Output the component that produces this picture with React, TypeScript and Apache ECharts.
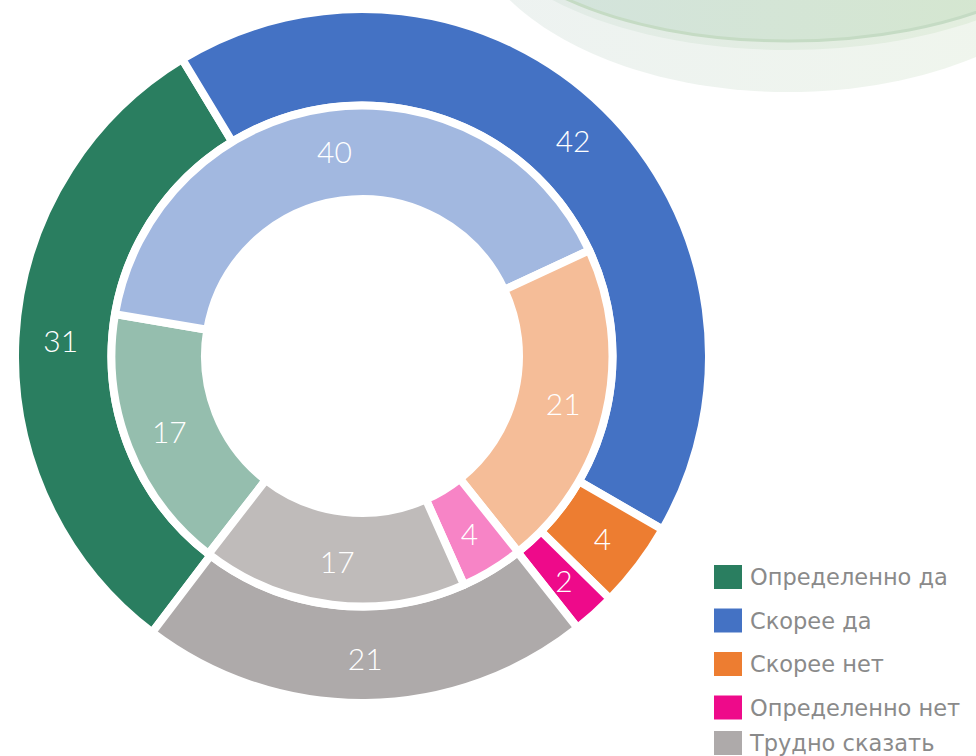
import React, { useEffect, useRef } from "react";
import * as echarts from "echarts";

const categories = ["Определенно да", "Скорее да", "Скорее нет", "Определенно нет", "Трудно сказать"];
const outerValues = [31, 42, 4, 2, 21];
const innerValues = [17, 40, 21, 4, 17];
const outerColors = ["#2A7E60", "#4472C4", "#ED7D31", "#EE0A8A", "#AEAAAA"];
const innerColors = ["#95BEAE", "#A2B8E0", "#F5BD98", "#F784C6", "#BFBBBA"];

const FONT = "Lato, 'Noto Sans', sans-serif";
const LEGEND_FONT = "'DejaVu Sans', sans-serif";

export default function App() {
  const ref = useRef<HTMLDivElement>(null);
  useEffect(() => {
    if (!ref.current) return;
    const chart = echarts.init(ref.current, undefined, { renderer: "svg" });
    const label = {
      show: true,
      position: "inside",
      color: "#ffffff",
      fontSize: 30,
      fontFamily: FONT,
      fontWeight: 300,
      formatter: "{c}",
    };
    const mk = (vals: number[], cols: string[]) =>
      vals.map((v, i) => ({ name: categories[i], value: v, itemStyle: { color: cols[i] } }));
    const legendBase = {
      orient: "vertical",
      left: 712,
      padding: 0,
      itemWidth: 30,
      itemHeight: 26,
      itemGap: 15.5,
      icon: "rect",
      textStyle: {
        fontSize: 22.5,
        color: "#8a8a8a",
        fontFamily: LEGEND_FONT,
        padding: [0, 0, 0, 2],
      },
    };
    chart.setOption({
      animation: false,
      backgroundColor: "#ffffff",
      graphic: [
        {
          type: "ellipse",
          z: 0,
          silent: true,
          shape: { cx: 788, cy: -100, rx: 326, ry: 192 },
          style: {
            fill: new echarts.graphic.LinearGradient(0, 0, 1, 0, [
              { offset: 0, color: "#edf2f1" },
              { offset: 1, color: "#f0f6ec" },
            ]),
          },
        },
        {
          type: "ellipse",
          z: 0,
          silent: true,
          shape: { cx: 788, cy: -100, rx: 316, ry: 150 },
          style: {
            fill: new echarts.graphic.LinearGradient(0, 0, 1, 0, [
              { offset: 0, color: "#e2ebe8" },
              { offset: 1, color: "#e3efdc" },
            ]),
          },
        },
        {
          type: "ellipse",
          z: 0,
          silent: true,
          shape: { cx: 788, cy: -100, rx: 311, ry: 141 },
          style: {
            fill: new echarts.graphic.LinearGradient(0, 0, 1, 0, [
              { offset: 0, color: "#d3e3de" },
              { offset: 1, color: "#d5e7cd" },
            ]),
            stroke: "#c5dbc4",
            lineWidth: 3,
          },
        },
      ],
      legend: [
        { ...legendBase, top: 563, data: categories.slice(0, 4) },
        { ...legendBase, top: 729, data: categories.slice(4) },
      ],
      series: [
        {
          type: "pie",
          center: [362, 356],
          radius: [250.5, 347],
          startAngle: 232.8,
          clockwise: true,
          label,
          labelLine: { show: false },
          itemStyle: { borderColor: "#ffffff", borderWidth: 8 },
          emphasis: { disabled: true },
          data: mk(outerValues, outerColors),
        },
        {
          type: "pie",
          center: [362, 356],
          radius: [157, 250.5],
          startAngle: 232.2,
          clockwise: true,
          label,
          labelLine: { show: false },
          itemStyle: { borderColor: "#ffffff", borderWidth: 8 },
          emphasis: { disabled: true },
          data: mk(innerValues, innerColors),
        },
      ],
    });
    return () => chart.dispose();
  }, []);
  return (
    <div
      ref={ref}
      style={{ position: "fixed", left: 0, top: 0, width: 976, height: 756 }}
    />
  );
}
